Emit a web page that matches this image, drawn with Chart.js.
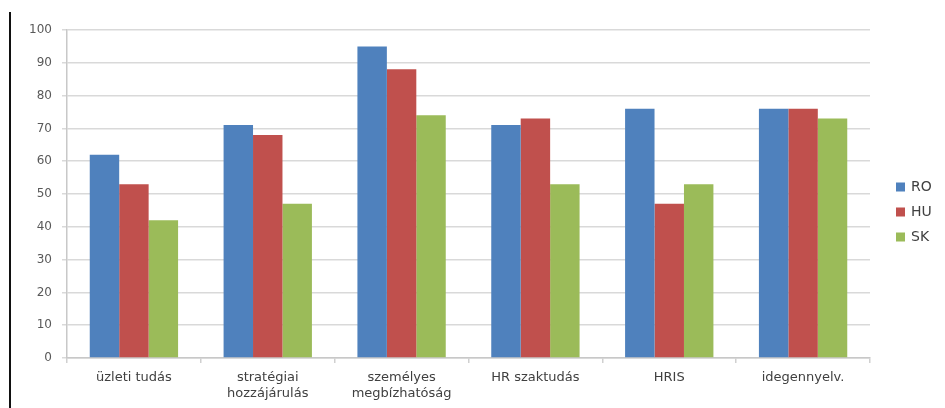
<!DOCTYPE html>
<html>
<head>
<meta charset="utf-8">
<script src="https://cdn.jsdelivr.net/npm/chart.js@4/dist/chart.umd.min.js"></script>
<style>
  html, body { margin: 0; padding: 0; background: #ffffff; }
  #wrap { position: relative; width: 945px; height: 408px; }
  #edge { position: absolute; left: 9px; top: 12px; width: 2px; height: 396px; background: #111; }
  canvas { position: absolute; left: 0; top: 0; }
</style>
</head>
<body>
<div id="wrap">
  <canvas id="chart" width="945" height="408"></canvas>
  <div id="edge"></div>
</div>
<script>
// Skill categories (multi-line labels as arrays)
const categories = [
  'üzleti tudás',
  ['stratégiai', 'hozzájárulás'],
  ['személyes', 'megbízhatóság'],
  'HR szaktudás',
  'HRIS',
  'idegennyelv.'
];
const seriesNames = ['RO', 'HU', 'SK'];
const valuesRO = [62, 71, 95, 71, 76, 76];
const valuesHU = [53, 68, 88, 73, 47, 76];
const valuesSK = [42, 47, 74, 53, 53, 73];
const seriesColors = ['#4f81bd', '#c0504d', '#9bbb59'];
const yTicks = [0, 10, 20, 30, 40, 50, 60, 70, 80, 90, 100];

const FONT = 'DejaVu Sans';

// Legend drawn at the right side of the canvas
const sideLegend = {
  id: 'sideLegend',
  afterDraw(chart) {
    const ctx = chart.ctx;
    ctx.save();
    ctx.font = '14px "' + FONT + '"';
    ctx.textBaseline = 'middle';
    ctx.textAlign = 'left';
    chart.data.datasets.forEach((ds, i) => {
      const y = 187 + i * 25;
      ctx.fillStyle = ds.backgroundColor;
      ctx.fillRect(896, y - 4.5, 9, 9);
      ctx.fillStyle = '#404040';
      ctx.fillText(ds.label, 911, y + 0.5);
    });
    ctx.restore();
  }
};

new Chart(document.getElementById('chart'), {
  type: 'bar',
  data: {
    labels: categories,
    datasets: [
      { label: seriesNames[0], data: valuesRO, backgroundColor: seriesColors[0] },
      { label: seriesNames[1], data: valuesHU, backgroundColor: seriesColors[1] },
      { label: seriesNames[2], data: valuesSK, backgroundColor: seriesColors[2] }
    ]
  },
  options: {
    responsive: false,
    animation: false,
    layout: { padding: { left: 0, right: 75, top: 30, bottom: 0 } },
    datasets: { bar: { categoryPercentage: 0.66, barPercentage: 1.0 } },
    plugins: {
      legend: { display: false },
      tooltip: { enabled: false }
    },
    scales: {
      x: {
        afterFit(scale) { scale.height = 50; },
        grid: { drawOnChartArea: false, drawTicks: true, tickLength: 5, color: '#d0d0d0', lineWidth: 1.5 },
        border: { color: '#c8c8c8', width: 1.5 },
        ticks: {
          color: '#404040',
          font: { family: FONT, size: 13, lineHeight: 1.25 },
          padding: 6,
          maxRotation: 0,
          autoSkip: false
        }
      },
      y: {
        min: 0,
        max: 100,
        afterFit(scale) { scale.width = 67; },
        afterBuildTicks(scale) { scale.ticks = yTicks.map(v => ({ value: v })); },
        grid: { color: '#d9d9d9', lineWidth: 1.5, tickLength: 5 },
        border: { color: '#c8c8c8', width: 1.5 },
        ticks: {
          color: '#595959',
          font: { family: FONT, size: 12 },
          padding: 10
        }
      }
    }
  },
  plugins: [sideLegend]
});
</script>
</body>
</html>
